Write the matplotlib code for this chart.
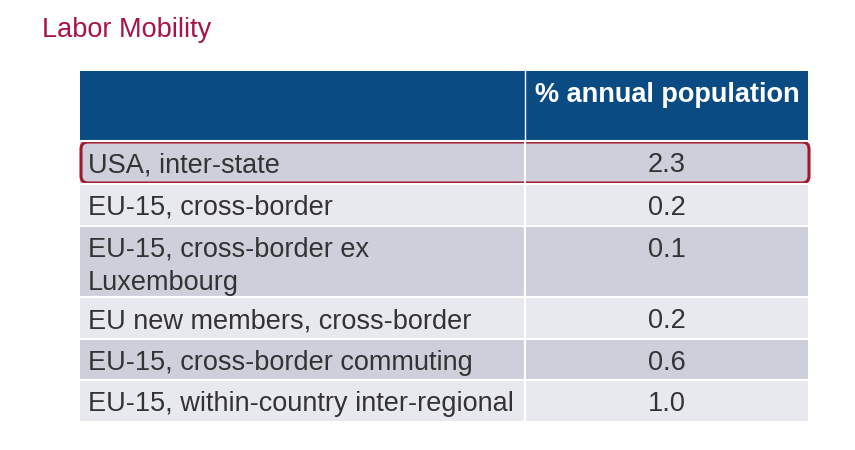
import matplotlib.pyplot as plt
from matplotlib.patches import Rectangle, FancyBboxPatch

plt.rcParams['font.family'] = ['Liberation Sans', 'DejaVu Sans']

title = 'Labor Mobility'
col_header = '% annual population'
row_labels = ['USA, inter-state',
              'EU-15, cross-border',
              'EU-15, cross-border ex\nLuxembourg',
              'EU new members, cross-border',
              'EU-15, cross-border commuting',
              'EU-15, within-country inter-regional']
values = [2.3, 0.2, 0.1, 0.2, 0.6, 1.0]
highlight_row = 0

# layout in pixels
left, mid, right = 80, 525, 808
head_top, head_bot = 71, 141
row_edges = [141, 184, 226, 297, 339, 380, 421]
base_off = 31     # baseline offset from row top
line_gap = 33

header_col = '#0B4B84'
dark_row = '#CDD0DB'
light_row = '#E8E9EE'
text_col = '#333333'
red = '#A3172E'
fs = 19.5

fig = plt.figure(figsize=(8.55, 4.5), dpi=100)
ax = fig.add_axes([0, 0, 1, 1])
ax.set_xlim(0, 855)
ax.set_ylim(450, 0)
ax.axis('off')

ax.text(42, 37, title, fontsize=fs, color='#A8124A', va='baseline', ha='left')

# header
ax.add_patch(Rectangle((left, head_top), right - left, head_bot - head_top,
                       facecolor=header_col, edgecolor='none'))
ax.plot([mid, mid], [head_top, head_bot], color='white', lw=1)
ax.text((mid + right) / 2 + 1, head_top + 31, col_header, fontsize=fs,
        fontweight='bold', color='white', ha='center', va='baseline')

# body rows
for i, (lab, val) in enumerate(zip(row_labels, values)):
    top, bot = row_edges[i], row_edges[i + 1]
    fc = dark_row if i % 2 == 0 else light_row
    ax.add_patch(Rectangle((left, top), right - left, bot - top,
                           facecolor=fc, edgecolor='none'))
    for k, line in enumerate(lab.split('\n')):
        ax.text(88, top + base_off + k * line_gap, line, fontsize=fs,
                color=text_col, ha='left', va='baseline')
    ax.text((mid + right) / 2, top + base_off, f'{val:.1f}', fontsize=fs,
            color=text_col, ha='center', va='baseline')
    ax.plot([left, right], [top, top], color='white', lw=1.5)

ax.plot([mid, mid], [row_edges[0], row_edges[-1]], color='white', lw=1.5)

# highlight box
t, b = row_edges[highlight_row] + 1, row_edges[highlight_row + 1] - 1
ax.add_patch(FancyBboxPatch((left + 1, t), right - left, b - t,
                            boxstyle='round,pad=0,rounding_size=7',
                            facecolor='none', edgecolor=red, lw=2.2))

fig.savefig('out.png', dpi=100)
